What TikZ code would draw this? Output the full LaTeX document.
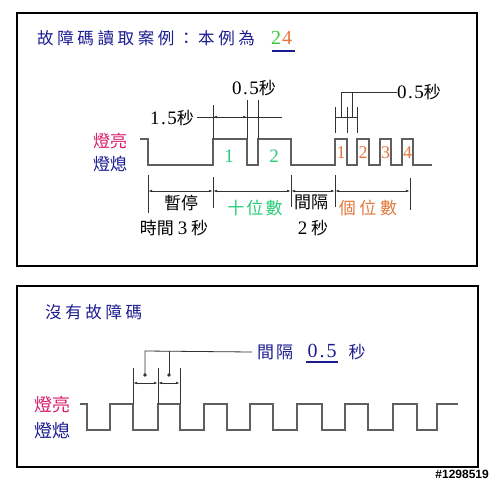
\documentclass[tikz,border=0pt]{standalone}
\usepackage{fontspec}
\setmainfont{Liberation Serif}
\newfontfamily\cjk{Noto Sans CJK TC}
\newfontfamily\cjkwide[LetterSpace=22]{Noto Sans CJK TC}
\newfontfamily\cjkmid[LetterSpace=12]{Noto Sans CJK TC}
\newfontfamily\digfont[LetterSpace=8]{Liberation Serif}
\newfontfamily\wmfont{Liberation Sans}
\newcommand{\dg}[1]{{\fontsize{19}{20}\selectfont\digfont #1}}
\usetikzlibrary{arrows.meta}
\definecolor{navy}{RGB}{28,28,145}
\definecolor{pinkred}{RGB}{215,30,110}
\definecolor{tgreen}{RGB}{40,205,120}
\definecolor{bgreen}{RGB}{60,200,60}
\definecolor{torange}{RGB}{228,120,60}
\definecolor{wavegray}{RGB}{95,95,95}
\definecolor{dimgray}{RGB}{50,50,50}
\begin{document}
\begin{tikzpicture}[x=1pt,y=-1pt,
  frame/.style={draw=black,line width=2.2pt},
  wave/.style={draw=wavegray,line width=1.6pt,line join=miter},
  dimline/.style={draw=dimgray,line width=0.8pt},
  dimarrow/.style={dimline,{Latex[length=4pt,width=2.6pt]}-{Latex[length=4pt,width=2.6pt]}},
  lbl/.style={inner sep=0pt,font=\fontsize{17}{20}\selectfont\cjk},
  title/.style={inner sep=0pt,anchor=west,text=navy,font=\fontsize{16.5}{20}\selectfont\cjkwide},
  digit/.style={inner sep=0pt,font=\fontsize{18}{20}\selectfont\rmfamily}]
\fill[white] (0,0) rectangle (492,480);
\useasboundingbox (0,0) rectangle (492,480);

% frames
\draw[frame] (17,13) rectangle (477,266);
\draw[frame] (17,286) rectangle (478,467);

% ---------- top panel ----------
\node[title] (t1) at (37,38) {故障碼讀取案例：本例為};
\node[inner sep=0pt,anchor=west,font=\fontsize{20}{22}\selectfont\rmfamily] (code) at (271,38)
  {\textcolor{bgreen}{2}\kern1pt\textcolor{torange}{4}};
\draw[navy,line width=2pt] (272,51) -- (295,51);

\node[lbl,text=pinkred] (on1) at (110,141) {燈亮};
\node[lbl,text=navy] (off1) at (110,164) {燈熄};

\draw[wave] (140,139) -- (148,139) -- (148,165) -- (213,165) -- (213,139) -- (247,139)
  -- (247,165) -- (258,165) -- (258,139) -- (291,139) -- (291,165) -- (335,165)
  -- (335,139) -- (347,139) -- (347,165) -- (357,165) -- (357,139) -- (369,139)
  -- (369,165) -- (380,165) -- (380,139) -- (391,139) -- (391,165) -- (402,165)
  -- (402,139) -- (413,139) -- (413,165) -- (432,165);

\node[digit,text=tgreen,font=\fontsize{19}{20}\selectfont\rmfamily] (g1) at (229,156) {1};
\node[digit,text=tgreen,font=\fontsize{19}{20}\selectfont\rmfamily] (g2) at (274,156) {2};
\node[digit,text=torange] (o1) at (341,153) {1};
\node[digit,text=torange] (o2) at (363,153) {2};
\node[digit,text=torange] (o3) at (385.5,153) {3};
\node[digit,text=torange] (o4) at (407.5,153) {4};

% 1.5 s dimension
\node[lbl,anchor=east] (l15) at (194,118) {\dg{1.5}秒};
\draw[dimline] (197,117) -- (282,117);
\draw[dimline] (213,105) -- (213,139);
\draw[dimline] (247,100) -- (247,139);
\draw[dimline] (258,100) -- (258,139);
\draw[dimarrow] (213,117) -- (247,117);
\node[lbl] (l05a) at (254,88) {\dg{0.5}秒};

% right 0.5 s
\draw[dimline] (335,107) -- (335,133);
\draw[dimline] (347,107) -- (347,133);
\draw[dimline] (357,107) -- (357,133);
\draw[dimline] (335,117) -- (357,117);
\node[lbl,anchor=west] (l05b) at (397,92) {\dg{0.5}秒};
\draw[dimline] (341,117) -- (341,92) -- (l05b.west);
\draw[dimline] (352,92) -- (352,117);

% lower dimension chain
\draw[dimline] (148,175) -- (148,213);
\draw[dimline] (213,177) -- (213,208);
\draw[dimline] (291,175) -- (291,207);
\draw[dimline] (335,175) -- (335,207);
\draw[dimline] (410,178) -- (410,210);
\draw[dimarrow] (148,191) -- (213,191);
\draw[dimarrow] (213,191) -- (291,191);
\draw[dimarrow] (291,191) -- (335,191);
\draw[dimarrow] (335,191) -- (410,191);

\node[lbl] (pause) at (181,203) {暫停};
\node[lbl] (pause2) at (174,228) {時間 \dg{3} 秒};
\node[lbl,text=tgreen,font=\fontsize{17}{20}\selectfont\cjkmid] (tens) at (255,208) {十位數};
\node[lbl] (gap) at (311,202) {間隔};
\node[lbl] (gap2) at (313,228) {\dg{2} 秒};
\node[lbl,text=torange,font=\fontsize{17}{20}\selectfont\cjkwide] (ones) at (368,208) {個位數};

% ---------- bottom panel ----------
\node[title] (t2) at (45,312) {沒有故障碼};
\node[lbl,text=pinkred,font=\fontsize{18}{20}\selectfont\cjk] (on2) at (52,405) {燈亮};
\node[lbl,text=navy,font=\fontsize{18}{20}\selectfont\cjk] (off2) at (52,431) {燈熄};

\draw[wave] (80,404) -- (87,404) -- (87,430) -- (110,430) -- (110,404) -- (133,404)
  -- (133,430) -- (158,430) -- (158,404) -- (180,404) -- (180,430) -- (204,430)
  -- (204,404) -- (227,404) -- (227,430) -- (250,430) -- (250,404) -- (273,404)
  -- (273,430) -- (297,430) -- (297,404) -- (322,404) -- (322,430) -- (345,430)
  -- (345,404) -- (368,404) -- (368,430) -- (393,430) -- (393,404) -- (417,404)
  -- (417,430) -- (437,430) -- (437,404) -- (458,404);

\draw[dimline] (133,368) -- (133,404);
\draw[dimline] (158,368) -- (158,404);
\draw[dimline] (180,368) -- (180,404);
\draw[dimarrow] (133,383) -- (158,383);
\draw[dimarrow] (158,383) -- (180,383);

\node[lbl,anchor=west,text=navy,font=\fontsize{17}{20}\selectfont\cjkmid] (gap3) at (257,352) {間隔};
\node[inner sep=0pt,text=navy,font=\fontsize{20}{22}\selectfont\rmfamily] (half) at (322,351) {0\kern2pt.\kern2pt5};
\draw[navy,line width=2pt] (306,362) -- (338,362);
\node[lbl,text=navy] (sec) at (357,352) {秒};

\coordinate (d1) at (145,375);
\coordinate (d2) at (169,375);
\fill[dimgray] (d1) circle (1.8);
\fill[dimgray] (d2) circle (1.8);
\draw[dimline] (d1) -- (145,351) -- ([xshift=-5pt]gap3.west);
\draw[dimline] (169,351) -- (d2);

% watermark
\node[inner sep=0pt,anchor=south east,font=\fontsize{12}{13}\selectfont\wmfont\bfseries] (wm) at (489,479) {\#1298519};
\end{tikzpicture}
\end{document}
